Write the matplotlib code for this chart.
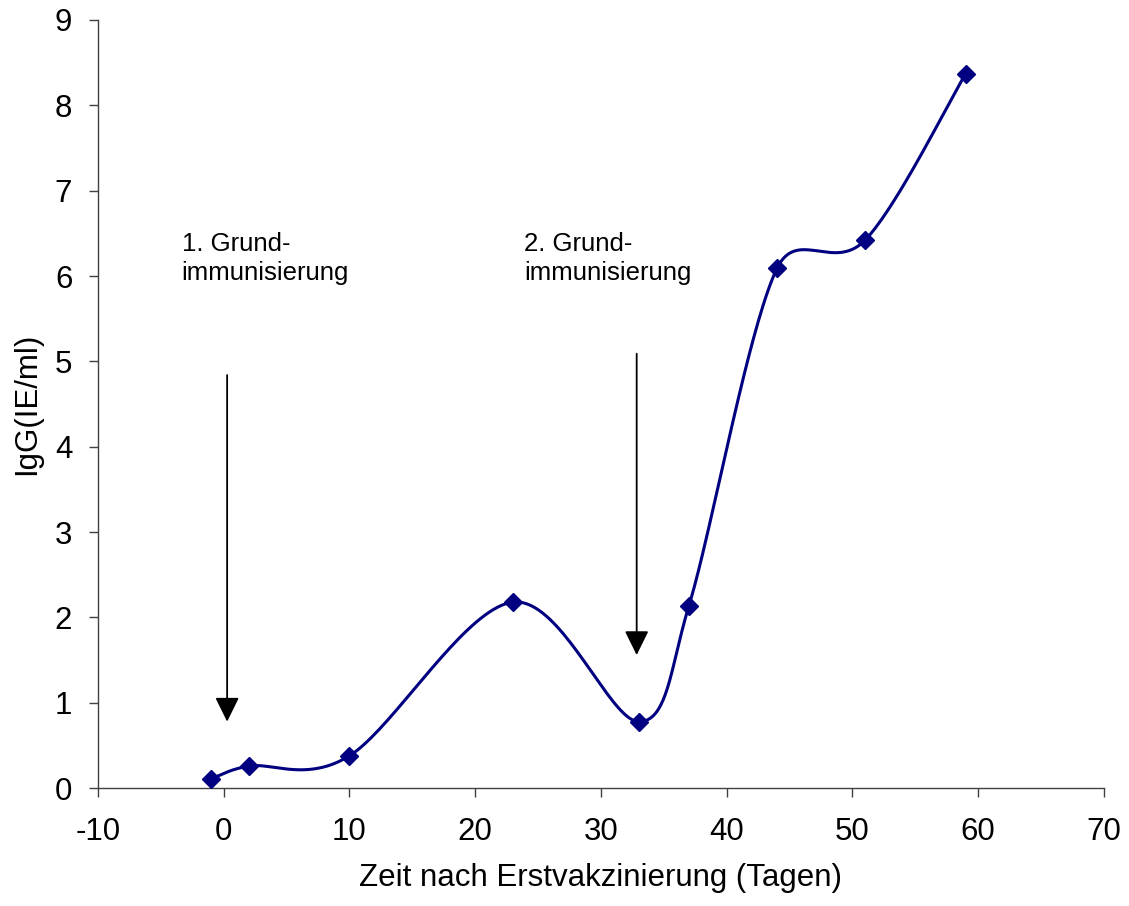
import numpy as np
import matplotlib
matplotlib.use('Agg')
import matplotlib.pyplot as plt

plt.rcParams['font.family'] = ['Liberation Sans', 'DejaVu Sans']
plt.rcParams['axes.unicode_minus'] = False

# Messwerte
tage = [-1, 2, 10, 23, 33, 37, 44, 51, 59]
igg = [0.11, 0.26, 0.38, 2.18, 0.78, 2.14, 6.09, 6.42, 8.37]

# Pfeile (x, y oben, y Spitze) und Beschriftungen
pfeile = [(0.27, 4.84, 0.78), (32.84, 5.09, 1.56)]
texte = [(-3.35, 6.52, '1. Grund-\nimmunisierung'),
         (23.9, 6.52, '2. Grund-\nimmunisierung')]

xticks = list(range(-10, 71, 10))
yticks = list(range(0, 10))


def smooth(ax, x, y, n=40):
    # geglaettete Linie wie in Excel: Catmull-Rom-Bezier im Bildschirmraum,
    # Kontrollpunkte hoechstens halbe Segmentlaenge vom Punkt entfernt
    p = ax.transData.transform(np.column_stack([x, y]))
    m = len(p)
    cin = p.copy()
    cout = p.copy()
    for i in range(m):
        a = p[max(i - 1, 0)]
        b = p[min(i + 1, m - 1)]
        tang = (b - a) / 6
        tl = np.hypot(*tang)
        if tl == 0:
            continue
        d0 = np.hypot(*(p[i] - a))
        d1 = np.hypot(*(b - p[i]))
        cout[i] = p[i] + tang * min(1, d1 / 2 / tl)
        cin[i] = p[i] - tang * min(1, d0 / 2 / tl)
    t = np.linspace(0, 1, n)[:, None]
    out = []
    for i in range(m - 1):
        p1, c1, c2, p2 = p[i], cout[i], cin[i + 1], p[i + 1]
        seg = ((1 - t) ** 3 * p1 + 3 * (1 - t) ** 2 * t * c1
               + 3 * (1 - t) * t ** 2 * c2 + t ** 3 * p2)
        out.append(seg if i == 0 else seg[1:])
    out = ax.transData.inverted().transform(np.vstack(out))
    return out[:, 0], out[:, 1]


fig = plt.figure(figsize=(11.29, 9.06), dpi=100)
ax = fig.add_axes([0.0868, 0.130, 0.891, 0.848])
ax.set_xlim(-10, 70)
ax.set_ylim(0, 9)

sx, sy = smooth(ax, tage, igg)
ax.plot(sx, sy, color='#000080', linewidth=2.2, zorder=3)
ax.plot(tage, igg, linestyle='none', marker='D', markersize=9.5,
        color='#000080', zorder=4)

for x, y0, y1 in pfeile:
    ax.annotate('', xy=(x, y1), xytext=(x, y0),
                arrowprops=dict(arrowstyle='-|>,head_length=0.75,head_width=0.37',
                                color='black', lw=1.3, mutation_scale=20,
                                shrinkA=0, shrinkB=0))

for x, y, s in texte:
    ax.text(x, y, s, fontsize=18.5, ha='left', va='top', linespacing=1.3)

ax.set_xticks(xticks)
ax.set_yticks(yticks)
ax.tick_params(direction='out', length=6.5, width=1, color='#404040',
               labelsize=22.5, pad=12)
ax.tick_params(axis='x', pad=14)
for side in ['top', 'right']:
    ax.spines[side].set_visible(False)
for side in ['left', 'bottom']:
    ax.spines[side].set_color('#404040')
    ax.spines[side].set_linewidth(1)

ax.set_xlabel('Zeit nach Erstvakzinierung (Tagen)', fontsize=22.5, labelpad=12)
ax.set_ylabel('IgG(IE/ml)', fontsize=22.5, labelpad=9)

fig.savefig('out.png', dpi=100)
